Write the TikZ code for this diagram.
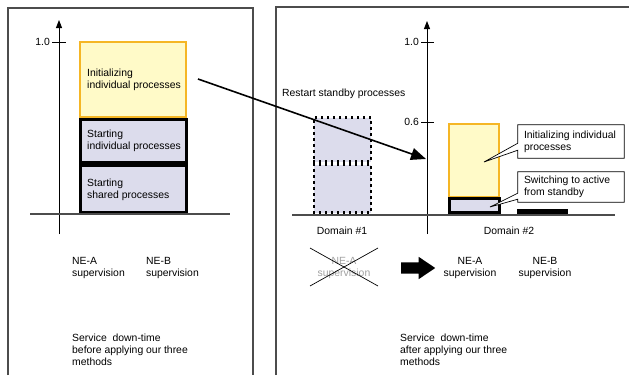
\documentclass[tikz,border=0pt]{standalone}
\usepackage{fontspec}
\setmainfont{Liberation Sans}
\usetikzlibrary{arrows.meta,shapes.arrows,calc}
\definecolor{procyellow}{HTML}{FFFAC8}
\definecolor{procorange}{HTML}{F5B625}
\definecolor{proclav}{HTML}{DCDCEC}
\definecolor{greytext}{HTML}{A0A0A0}
\tikzset{
  every node/.style={font=\fontsize{10.4}{12}\selectfont, inner sep=0pt},
  panel/.style={draw=black!70, line width=1.2pt},
  axis/.style={draw=black, line width=0.9pt, -{Triangle[length=8pt,width=6pt]}},
  tick/.style={draw=black, line width=0.9pt},
  ground/.style={draw=black!70, line width=1.1pt},
  yellowbox/.style={rectangle, draw=procorange, fill=procyellow, line width=2.8pt},
  lavbox/.style={rectangle, draw=black, fill=proclav, line width=3pt},
  dotbox/.style={rectangle, draw=black, fill=proclav, line width=2.4pt,
                 line cap=rect, dash pattern=on 0.2pt off 5.8pt},
  boxtext/.style={anchor=west, align=left},
  callout/.style={rectangle, draw=none, text width=94pt, inner xsep=6pt},
  calloutline/.style={draw=black, fill=white, line width=0.7pt},
  bigarrow/.style={draw=black, line width=1.6pt, -{Triangle[length=15pt,width=12pt]}},
}
\begin{document}
\begin{tikzpicture}[x=1pt,y=-1pt]
\useasboundingbox (0,0) rectangle (629,375);

% panel frames (open at the bottom)
\draw[panel] (8,375) -- (8,8) -- (253,8) -- (253,375);
\draw[panel] (276,375) -- (276,7) -- (629,7);

% ---------- left chart ----------
\coordinate (axLb) at (59,234);
\coordinate (axLt) at (59,20);
\draw[axis] (axLb) -- (axLt);
\coordinate (tLa) at (52,42);
\coordinate (tLb) at (66,42);
\draw[tick] (tLa) -- (tLb);
\node[anchor=east] (oneL) at (50,42) {1.0};
\coordinate (gLa) at (30,214);
\coordinate (gLb) at (230,214);

\node[yellowbox, minimum width=106pt, minimum height=75pt] (initL) at (133,79.5) {};
\node[lavbox, minimum width=106pt, minimum height=43pt] (indL) at (133,140.5) {};
\node[lavbox, minimum width=106pt, minimum height=47pt] (shL) at (133,189) {};
\draw[ground] (gLa) -- (gLb);

\node[boxtext] (initLt) at (87,79.5) {Initializing\\individual processes};
\node[boxtext] (indLt) at (87,141) {Starting\\individual processes};
\node[boxtext] (shLt) at (87,190) {Starting\\shared processes};

\node[boxtext] (neaL) at (72,267.5) {NE-A\\supervision};
\node[boxtext] (nebL) at (146,267.5) {NE-B\\supervision};
\node[boxtext] (svcL) at (72,350) {Service\ \ down-time\\before applying our three\\methods};

% ---------- right chart ----------
\coordinate (axRb) at (427,234);
\coordinate (axRt) at (427,21);
\draw[axis] (axRb) -- (axRt);
\coordinate (tRa) at (421,42);
\coordinate (tRb) at (434,42);
\draw[tick] (tRa) -- (tRb);
\coordinate (tRc) at (421,122);
\coordinate (tRd) at (434,122);
\draw[tick] (tRc) -- (tRd);
\node[anchor=east] (oneR) at (419,42) {1.0};
\node[anchor=east] (sixR) at (419,122) {0.6};

\node[anchor=west] (restart) at (282,94) {Restart standby processes};

\node[dotbox, minimum width=57pt, minimum height=44pt] (dotA) at (342.5,139.5) {};
\node[dotbox, minimum width=57pt, minimum height=48pt] (dotB) at (342.5,188.5) {};

\node[yellowbox, minimum width=50pt, minimum height=73pt] (initR) at (474,160.5) {};
\node[lavbox, minimum width=50pt, minimum height=14pt] (swR) at (474,205.5) {};
\node[rectangle, fill=black, minimum width=51pt, minimum height=6pt] (barR) at (542.5,212) {};

\coordinate (gRa) at (292,215);
\coordinate (gRb) at (615,215);
\draw[ground] (gRa) -- (gRb);

% callouts
\node[callout, minimum height=33pt] (co1) at (571,141.5) {};
\coordinate (tip1) at (484,162);
\draw[calloutline] (co1.north west) -- (co1.north east) -- (co1.south east)
  -- (co1.south west) -- ([yshift=8pt]co1.south west) -- (tip1)
  -- ([yshift=15pt]co1.south west) -- cycle;
\node[align=left, anchor=west] (co1t) at ([xshift=6pt]co1.west) {Initializing individual\\processes};

\node[callout, minimum height=30pt] (co2) at (571,187) {};
\coordinate (tip2) at (490,207);
\draw[calloutline] (co2.north west) -- (co2.north east) -- (co2.south east)
  -- (co2.south west) -- ([yshift=3pt]co2.south west) -- (tip2)
  -- ([yshift=9pt]co2.south west) -- cycle;
\node[align=left, anchor=west] (co2t) at ([xshift=6pt]co2.west) {Switching to active\\from standby};

\node (dom1) at (342,231) {Domain \#1};
\node (dom2) at (509,231) {Domain \#2};

% supervision moves from domain #1 to domain #2
\node[align=center, text=greytext] (neaOld) at (344,268) {NE-A\\supervision};
\coordinate (xa) at (310,248);
\coordinate (xb) at (378,286);
\coordinate (xc) at (310,286);
\coordinate (xd) at (378,248);
\draw[black, line width=0.7pt] (xa) -- (xb);
\draw[black, line width=0.7pt] (xc) -- (xd);
\node[single arrow, fill=black, inner xsep=0pt, inner ysep=5.5pt,
      minimum height=34pt, single arrow head extend=5.5pt,
      single arrow tip angle=68, single arrow head indent=0pt] (move) at (414,268) {};
\node[align=center] (neaR) at (470,267.5) {NE-A\\supervision};
\node[align=center] (nebR) at (545,267.5) {NE-B\\supervision};
\node[boxtext] (svcR) at (400,350) {Service\ \ down-time\\after applying our three\\methods};

% restart arrow across the panels
\coordinate (arrS) at (198,79);
\coordinate (arrE) at (426,159);
\draw[bigarrow] (arrS) -- (arrE);
\end{tikzpicture}
\end{document}
